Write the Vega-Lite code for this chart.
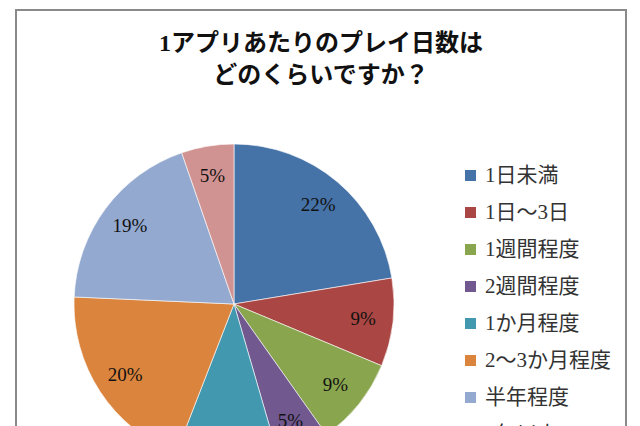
{
  "$schema": "https://vega.github.io/schema/vega-lite/v6.json",
  "width": 610,
  "height": 430,
  "autosize": {"type": "none"},
  "padding": {"left": 16, "top": 10, "right": 14, "bottom": 0},
  "background": "white",
  "view": {"stroke": "#8a8a8a", "strokeWidth": 2, "fill": "white"},
  "config": {
    "view": {"stroke": "#8a8a8a", "strokeWidth": 2},
    "font": "Liberation Serif, Noto Sans CJK JP"
  },
  "title": {
    "text": ["1アプリあたりのプレイ日数は", "どのくらいですか？"],
    "font": "Liberation Serif, Noto Sans CJK JP",
    "fontSize": 24,
    "fontWeight": "bold",
    "color": "#111111",
    "lineHeight": 32,
    "anchor": "middle",
    "frame": "group",
    "offset": -78
  },
  "data": {
    "values": [
      {"category": "1日未満", "value": 0.224, "rank": 1},
      {"category": "1日～3日", "value": 0.089, "rank": 2},
      {"category": "1週間程度", "value": 0.089, "rank": 3},
      {"category": "2週間程度", "value": 0.053, "rank": 4},
      {"category": "1か月程度", "value": 0.104, "rank": 5},
      {"category": "2～3か月程度", "value": 0.198, "rank": 6},
      {"category": "半年程度", "value": 0.19, "rank": 7},
      {"category": "1年以上", "value": 0.053, "rank": 8}
    ]
  },
  "encoding": {
    "theta": {"field": "value", "type": "quantitative", "stack": true},
    "order": {"field": "rank", "type": "quantitative"}
  },
  "layer": [
    {
      "mark": {"type": "arc", "outerRadius": 160, "x": 218, "y": 294, "stroke": "white", "strokeWidth": 0.6},
      "encoding": {
        "color": {
          "field": "category",
          "type": "nominal",
          "scale": {
            "domain": ["1日未満", "1日～3日", "1週間程度", "2週間程度", "1か月程度", "2～3か月程度", "半年程度", "1年以上"],
            "range": ["#4572A7", "#AA4643", "#89A54E", "#71588F", "#4198AF", "#DB843D", "#93A9CF", "#D19392"]
          },
          "legend": {
            "title": null,
            "orient": "none",
            "legendX": 444,
            "legendY": 155,
            "symbolType": "square",
            "symbolSize": 121,
            "symbolStrokeWidth": 0,
            "labelFont": "Liberation Serif, Noto Sans CJK JP",
            "labelFontSize": 21,
            "labelColor": "#333333",
            "labelOffset": 4,
            "rowPadding": 15,
            "labelLimit": 300
          }
        }
      }
    },
    {
      "mark": {"type": "text", "radius": 130, "x": 218, "y": 294, "fontSize": 19, "font": "Liberation Serif", "color": "#111111"},
      "encoding": {
        "text": {"field": "value", "type": "quantitative", "format": ".0%"}
      }
    }
  ]
}
